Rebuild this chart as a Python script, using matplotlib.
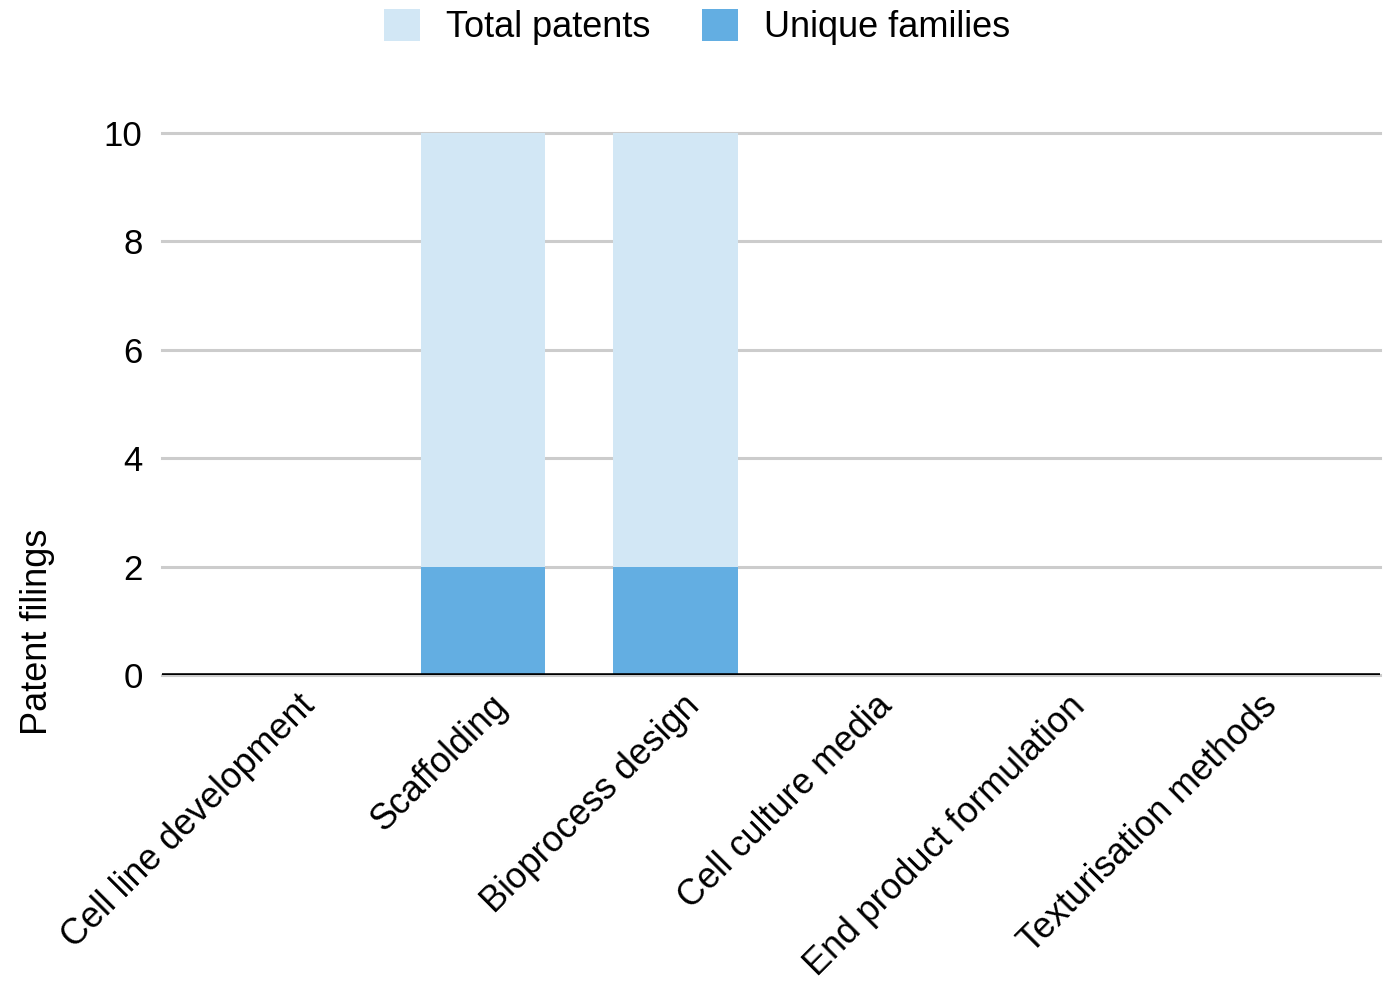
import matplotlib
matplotlib.use("Agg")
import matplotlib.pyplot as plt
import matplotlib.transforms as mtransforms
import numpy as np

plt.rcParams["font.family"] = ["Liberation Sans", "DejaVu Sans"]

# Patent filings per technology area
categories = ["Cell line development", "Scaffolding", "Bioprocess design",
              "Cell culture media", "End product formulation", "Texturisation methods"]
total_patents = [0, 10, 10, 0, 0, 0]
unique_families = [0, 2, 2, 0, 0, 0]
yticks = [0, 2, 4, 6, 8, 10]

light = "#D2E7F5"
dark = "#63AEE2"

fig = plt.figure(figsize=(13.94, 9.88), dpi=100)
ax = fig.add_axes([162 / 1394, 1 - 675 / 988, (1380 - 162) / 1394, (675 - 133) / 988])

x = np.arange(len(categories))
width = 0.645
ax.bar(x, total_patents, width, color=light, label="Total patents", zorder=2)
ax.bar(x, unique_families, width, color=dark, label="Unique families", zorder=3)

ax.set_xlim(-0.667, 5.66)
ax.set_ylim(0, 10)
ax.set_yticks(yticks)
ax.set_yticklabels([str(v) for v in yticks])
ax.grid(axis="y", color="#CCCCCC", linewidth=2.2, zorder=1)
for line in ax.get_ygridlines():
    line.set_clip_on(False)
ax.axhline(0, color="black", linewidth=2.6, zorder=4)

for s in ax.spines.values():
    s.set_visible(False)

ax.tick_params(axis="y", length=0, pad=14, labelsize=25)
ax.tick_params(axis="x", length=0, pad=4)
ax.set_xticks(x)
ax.set_xticklabels(categories, rotation=45, ha="right", va="top",
                   rotation_mode="anchor", fontsize=25.8)
shift = mtransforms.ScaledTranslation(7 / 100, -8 / 100, fig.dpi_scale_trans)
for lbl in ax.get_xticklabels():
    lbl.set_transform(lbl.get_transform() + shift)

ax.set_ylabel("Patent filings", fontsize=26)
ax.yaxis.set_label_coords(55 / 1394, 1 - 632 / 988, transform=fig.transFigure)

fig.legend(loc="center", bbox_to_anchor=(0.5, 1 - 27 / 988), ncol=2, frameon=False,
           fontsize=26, handlelength=1.0, handleheight=1.0, handletextpad=0.7,
           columnspacing=1.45)

fig.savefig("out.png", dpi=100)
